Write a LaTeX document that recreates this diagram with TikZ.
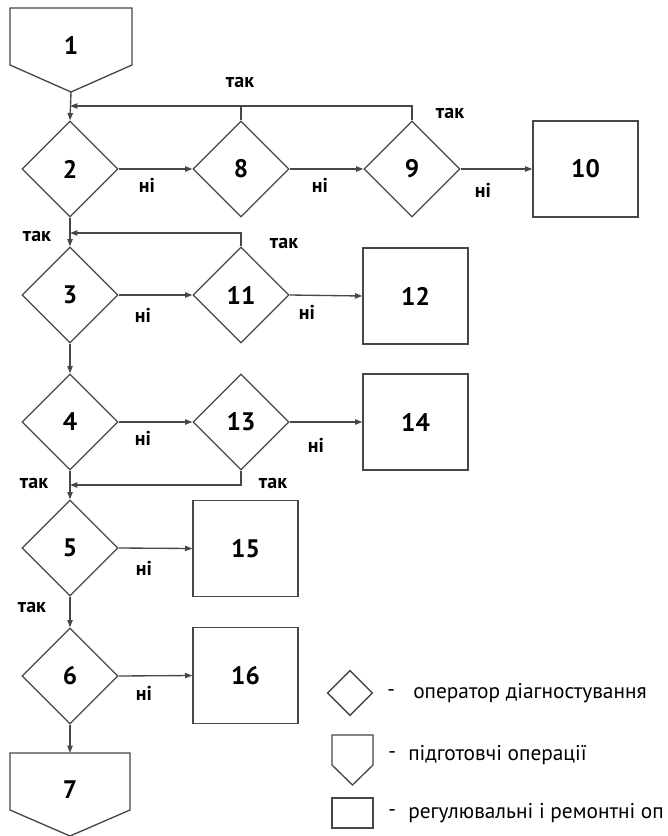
\documentclass[tikz,border=0pt]{standalone}
\usepackage{fontspec}
\setmainfont{PT Sans}
\usetikzlibrary{shapes.geometric,arrows.meta}
\tikzset{
  ln/.style={draw=black!72, line width=1pt},
  arr/.style={ln, -{Triangle[length=5.5pt,width=4pt]}},
  dia/.style={diamond, ln, minimum width=72pt, minimum height=72pt, inner sep=0pt, font=\bfseries\fontsize{19}{19}\selectfont},
  boxn/.style={rectangle, ln, minimum width=78.75pt, minimum height=72pt, inner sep=0pt, font=\bfseries\fontsize{19}{19}\selectfont},
  num/.style={font=\bfseries\fontsize{19}{19}\selectfont, inner sep=0pt},
  lbl/.style={font=\bfseries\fontsize{15}{15}\selectfont, inner sep=0pt},
  leg/.style={font=\fontsize{16}{16}\selectfont, inner sep=0pt, anchor=west},
  pent/.style={ln, line join=miter}
}
\begin{document}
\begin{tikzpicture}[x=0.75pt,y=-0.75pt]
\useasboundingbox (0,0) rectangle (668,836);
% pentagon 1
\draw[pent] (10,8) -- (132,8) -- (132,65) -- (71,92) -- (10,65) -- cycle;
\node[num] (p1) at (71,45) {1};
\coordinate (p1tip) at (71,92);
% diamonds
\node[dia] (d2) at (70,169) {2};
\node[dia] (d8) at (241,169) {8};
\node[dia] (d9) at (412,169) {9};
\node[dia] (d3) at (70,295) {3};
\node[dia] (d11) at (241,295) {11};
\node[dia] (d4) at (70,422) {4};
\node[dia] (d13) at (241,422) {13};
\node[dia] (d5) at (70,548) {5};
\node[dia] (d6) at (70,676) {6};
% boxes
\node[boxn] (b10) at (585.5,169) {10};
\node[boxn] (b12) at (415.5,296) {12};
\node[boxn] (b14) at (415.5,422) {14};
\node[boxn] (b15) at (245.5,548.5) {15};
\node[boxn] (b16) at (245.5,675.5) {16};
% pentagon 7
\draw[pent] (10,753) -- (130,753) -- (130,810) -- (70,836) -- (10,810) -- cycle;
\node[num] (p7) at (70,790) {7};
\coordinate (p7top) at (70,753);
% junctions
\coordinate (j1) at (70,106);
\coordinate (j2) at (70,233);
\coordinate (j3) at (70,485);
% connectors
\draw[arr] (p1tip) -- (d2.north);
\draw[arr] (d2.east) -- (d8.west);
\draw[arr] (d8.east) -- (d9.west);
\draw[arr] (d9.east) -- (b10.west);
\draw[arr] (d9.north) |- (j1);
\draw[ln] (d8.north) -- (d8.north |- j1);
\draw[arr] (d2.south) -- (d3.north);
\draw[arr] (d11.north) |- (j2);
\draw[arr] (d3.east) -- (d11.west);
\draw[arr] (d11.east) -- (b12.west);
\draw[arr] (d3.south) -- (d4.north);
\draw[arr] (d4.east) -- (d13.west);
\draw[arr] (d13.east) -- (b14.west);
\draw[arr] (d13.south) |- (j3);
\draw[arr] (d4.south) -- (d5.north);
\draw[arr] (d5.east) -- (b15.west);
\draw[arr] (d5.south) -- (d6.north);
\draw[arr] (d6.east) -- (b16.west);
\draw[arr] (d6.south) -- (p7top);
% labels
\node[lbl] (t1) at (240,82) {так};
\node[lbl] (t2) at (450,113) {так};
\node[lbl] (t3) at (37,236) {так};
\node[lbl] (t4) at (284,243) {так};
\node[lbl] (t5) at (34,483) {так};
\node[lbl] (t6) at (273,483) {так};
\node[lbl] (t7) at (32,607) {так};
\node[lbl] (n1) at (147,185) {ні};
\node[lbl] (n2) at (320,185) {ні};
\node[lbl] (n3) at (483,190) {ні};
\node[lbl] (n4) at (143,315) {ні};
\node[lbl] (n5) at (307,312) {ні};
\node[lbl] (n6) at (143,438) {ні};
\node[lbl] (n7) at (316,445) {ні};
\node[lbl] (n8) at (144,568) {ні};
\node[lbl] (n9) at (144,693) {ні};
% legend
\node[diamond, ln, minimum width=34pt, minimum height=34pt, inner sep=0pt] (ld) at (350,693) {};
\node[leg] (ld1) at (387,693) {-};
\node[leg] (ld2) at (413,693) {оператор діагностування};
\draw[pent] (332,735) -- (373,735) -- (373,765) -- (352.5,785) -- (332,765) -- cycle;
\node[leg] (lp1) at (388,755) {-};
\node[leg] (lp2) at (408,755) {підготовчі операції};
\node[rectangle, ln, minimum width=30.75pt, minimum height=22.5pt, inner sep=0pt] (lr) at (352.5,813) {};
\node[leg] (lr1) at (388,813) {-};
\node[leg] (lr2) at (408,813) {регулювальні і ремонтні оп};
\end{tikzpicture}
\end{document}
